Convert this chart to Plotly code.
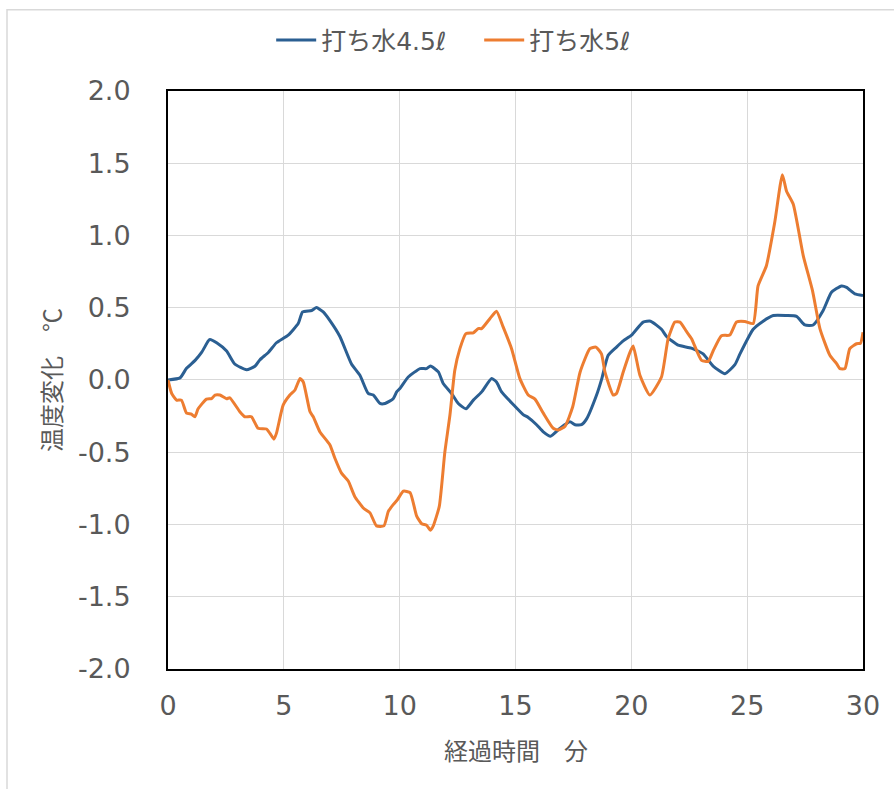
import plotly.graph_objects as go

# 打ち水4.5ℓ
t_45 = [0, 0.52, 0.8, 1.17, 1.45, 1.74, 1.81, 2.1, 2.53, 2.88, 3.39, 3.75, 3.97, 4.33, 4.68,
        5.19, 5.62, 5.81, 6.2, 6.41, 6.7, 6.99, 7.42, 7.92, 8.29, 8.64, 8.86, 9.15, 9.37,
        9.72, 9.87, 10.01, 10.37, 10.88, 11.16, 11.33, 11.67, 11.88, 12.24, 12.53, 12.86,
        13.18, 13.54, 13.97, 14.18, 14.4, 14.9, 15.33, 15.55, 15.91, 16.2, 16.51, 16.92,
        17.35, 17.57, 17.85, 18.07, 18.5, 18.71, 19.0, 19.36, 19.65, 20.01, 20.51, 20.83,
        21.3, 21.52, 22.02, 22.59, 23.1, 23.53, 24.04, 24.47, 24.69, 25.26, 25.69, 26.13,
        26.7, 27.13, 27.49, 27.85, 28.28, 28.64, 29.07, 29.29, 29.65, 30.0]
v_45 = [0.0, 0.014, 0.08, 0.135, 0.19, 0.27, 0.28, 0.257, 0.2, 0.11, 0.07, 0.094, 0.14, 0.19,
        0.257, 0.31, 0.39, 0.47, 0.48, 0.50, 0.47, 0.41, 0.30, 0.11, 0.03, -0.094, -0.105,
        -0.163, -0.163, -0.13, -0.083, -0.06, 0.02, 0.078, 0.078, 0.096, 0.055, -0.025,
        -0.094, -0.163, -0.2, -0.14, -0.083, 0.009, -0.014, -0.083, -0.17, -0.24, -0.26,
        -0.31, -0.36, -0.39, -0.335, -0.29, -0.31, -0.31, -0.27, -0.105, 0.0, 0.17, 0.227,
        0.27, 0.31, 0.40, 0.406, 0.35, 0.30, 0.24, 0.22, 0.18, 0.096, 0.043, 0.105, 0.18,
        0.35, 0.406, 0.445, 0.445, 0.44, 0.38, 0.38, 0.48, 0.606, 0.65, 0.64, 0.595, 0.583]

# 打ち水5ℓ
t_5 = [0, 0.16, 0.37, 0.58, 0.8, 1.01, 1.16, 1.3, 1.66, 1.88, 2.03, 2.24, 2.53, 2.67, 3.1,
       3.32, 3.6, 3.89, 4.25, 4.4, 4.57, 4.68, 4.97, 5.26, 5.48, 5.7, 5.84, 6.13, 6.27, 6.56,
       6.99, 7.2, 7.49, 7.78, 8.06, 8.43, 8.72, 9.0, 9.32, 9.51, 9.72, 9.9, 10.16, 10.45,
       10.73, 10.95, 11.16, 11.33, 11.45, 11.71, 11.95, 12.17, 12.38, 12.6, 12.86, 13.18,
       13.39, 13.54, 13.9, 14.18, 14.47, 14.83, 15.19, 15.55, 15.84, 16.2, 16.63, 16.85,
       17.14, 17.47, 17.79, 18.21, 18.47, 18.71, 18.86, 19.22, 19.36, 19.65, 19.94, 20.08,
       20.37, 20.8, 21.3, 21.59, 21.88, 22.1, 22.38, 22.6, 23.03, 23.32, 23.53, 23.89,
       24.25, 24.54, 24.9, 25.26, 25.47, 25.83, 26.19, 26.52, 26.7, 26.99, 27.42, 27.82,
       28.14, 28.57, 28.86, 29.0, 29.22, 29.43, 29.72, 29.89, 30.0]
v_5 = [0.0, -0.094, -0.14, -0.14, -0.23, -0.237, -0.255, -0.2, -0.133, -0.13, -0.105, -0.105,
       -0.13, -0.124, -0.22, -0.255, -0.255, -0.335, -0.34, -0.37, -0.41, -0.37, -0.175,
       -0.105, -0.07, 0.009, -0.014, -0.22, -0.255, -0.36, -0.45, -0.54, -0.645, -0.70,
       -0.806, -0.886, -0.92, -1.01, -1.01, -0.91, -0.863, -0.83, -0.77, -0.78, -0.94,
       -0.995, -1.005, -1.04, -1.01, -0.875, -0.50, -0.243, 0.067, 0.216, 0.32, 0.326,
       0.355, 0.355, 0.425, 0.475, 0.365, 0.216, 0.009, -0.105, -0.133, -0.23, -0.335,
       -0.346, -0.32, -0.186, 0.055, 0.216, 0.227, 0.18, 0.055, -0.105, -0.094, 0.055, 0.19,
       0.234, 0.032, -0.105, 0.02, 0.285, 0.40, 0.40, 0.335, 0.285, 0.135, 0.128, 0.2,
       0.306, 0.31, 0.40, 0.404, 0.39, 0.65, 0.79, 1.09, 1.42, 1.305, 1.215, 0.86, 0.617,
       0.355, 0.17, 0.112, 0.078, 0.078, 0.216, 0.25, 0.253, 0.33]

x_ticks = [0, 5, 10, 15, 20, 25, 30]
y_ticks = [-2.0, -1.5, -1.0, -0.5, 0.0, 0.5, 1.0, 1.5, 2.0]
y_ticktext = [f"{v:.1f}" for v in y_ticks]

series_names = ["打ち水4.5ℓ", "打ち水5ℓ"]
x_title = "経過時間　分"
y_title = "温度変化　℃"

TXT = "#595959"
GRID = "#d9d9d9"
NUM_FONT = "DejaVu Sans, Noto Sans CJK JP, sans-serif"
CJK_FONT = "Noto Sans CJK JP, DejaVu Sans, sans-serif"
LEG_FONT = "DejaVu Sans, Noto Sans CJK JP, sans-serif"

fig = go.Figure()
fig.add_trace(go.Scatter(x=t_45, y=v_45, mode="lines", name=series_names[0],
                         line=dict(color="#2B5F92", width=3, shape="spline", smoothing=0.5)))
fig.add_trace(go.Scatter(x=t_5, y=v_5, mode="lines", name=series_names[1],
                         line=dict(color="#ED7D31", width=3, shape="spline", smoothing=0.5)))

fig.update_layout(
    width=894, height=789,
    margin=dict(l=168, r=31, t=88, b=120),
    paper_bgcolor="white", plot_bgcolor="white",
    font=dict(family=NUM_FONT, color=TXT, size=27),
    showlegend=True,
    legend=dict(orientation="h", xref="container", yref="container", x=0.536, y=0.949,
                xanchor="center", yanchor="middle",
                font=dict(family=LEG_FONT, size=25, color=TXT),
                itemwidth=40, tracegroupgap=0, entrywidthmode="pixels", entrywidth=153),
    xaxis=dict(range=[0, 30], tickvals=x_ticks, ticktext=[str(v) for v in x_ticks],
               showgrid=True, gridcolor=GRID, gridwidth=1,
               showline=True, linecolor="black", linewidth=2, mirror=True,
               ticks="", ticklabelstandoff=12, zeroline=False,
               tickfont=dict(family=NUM_FONT, size=27, color=TXT)),
    yaxis=dict(range=[-2, 2], tickvals=y_ticks, ticktext=y_ticktext,
               showgrid=True, gridcolor=GRID, gridwidth=1,
               showline=True, linecolor="black", linewidth=2, mirror=True,
               ticks="", ticklabelstandoff=30, zeroline=False,
               tickfont=dict(family=NUM_FONT, size=27, color=TXT)),
    annotations=[
        dict(text=x_title, xref="paper", yref="paper", x=0.5, y=(669 - 750) / 581,
             xanchor="center", yanchor="middle", showarrow=False,
             font=dict(family=CJK_FONT, size=24, color=TXT)),
        dict(text=y_title, xref="paper", yref="paper", x=(51 - 168) / 695, y=0.5,
             xanchor="center", yanchor="middle", showarrow=False, textangle=-90,
             font=dict(family=CJK_FONT, size=24, color=TXT)),
    ],
    shapes=[
        dict(type="rect", xref="paper", yref="paper",
             x0=(7 - 168) / 695, x1=(905 - 168) / 695,
             y0=(669 - 800) / 581, y1=(669 - 6.5) / 581,
             line=dict(color=GRID, width=1.5), fillcolor="rgba(0,0,0,0)", layer="below"),
    ],
)

fig.write_html("out.html")
